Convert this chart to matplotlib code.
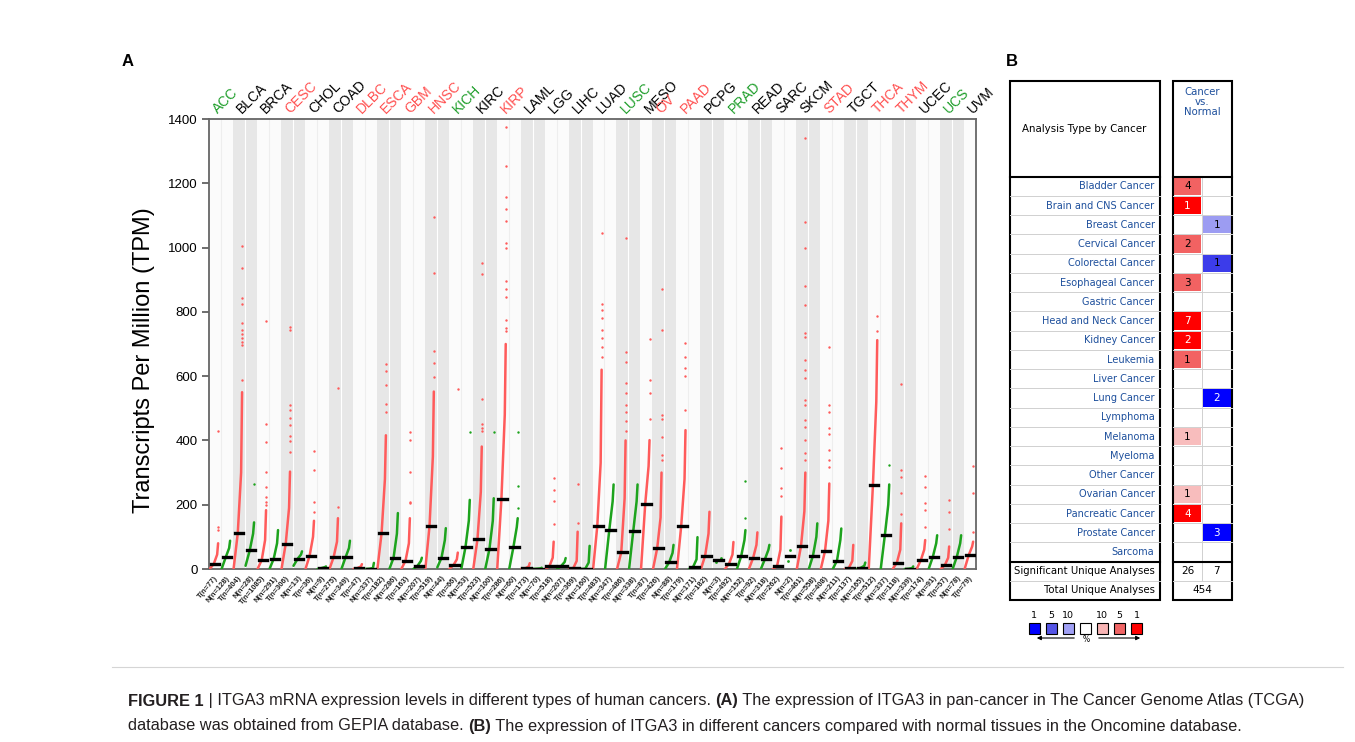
import matplotlib
matplotlib.use('Agg')
import matplotlib.pyplot as plt
from matplotlib.patches import Rectangle

plt.rcParams['font.family'] = ['Liberation Sans', 'DejaVu Sans']

# ---- panel A: GEPIA dot plot (TPM) ----
cancers = ['ACC', 'BLCA', 'BRCA', 'CESC', 'CHOL', 'COAD', 'DLBC', 'ESCA', 'GBM', 'HNSC',
           'KICH', 'KIRC', 'KIRP', 'LAML', 'LGG', 'LIHC', 'LUAD', 'LUSC', 'MESO', 'OV',
           'PAAD', 'PCPG', 'PRAD', 'READ', 'SARC', 'SKCM', 'STAD', 'TGCT', 'THCA', 'THYM',
           'UCEC', 'UCS', 'UVM']
name_color = ['g', 'k', 'k', 'r', 'k', 'k', 'r', 'r', 'r', 'r', 'g', 'k', 'r', 'k', 'k', 'k',
              'k', 'g', 'k', 'r', 'r', 'k', 'g', 'k', 'k', 'k', 'r', 'k', 'r', 'r', 'k', 'g', 'k']

t_n = [77, 404, 1085, 306, 36, 275, 47, 182, 163, 519, 66, 523, 286, 173, 518, 369, 483,
       486, 87, 426, 179, 182, 492, 92, 262, 461, 408, 137, 512, 118, 174, 57, 79]
n_n = [128, 28, 291, 13, 9, 349, 337, 286, 207, 44, 53, 100, 60, 70, 207, 160, 347,
       338, None, 88, 171, 3, 152, 318, 2, 558, 211, 165, 337, 339, 91, 78, None]

# tumour: median, upper part of the dense curve, end of the dense curve, single points
t_med = [16, 111, 28, 78, 42, 37, 3, 111, 26, 133, 12, 92, 218, 2, 8, 3, 134,
         52, 203, 65, 133, 42, 17, 34, 9, 72, 56, 4, 262, 20, 28, 12, 44]
t_hi = [45, 300, 90, 190, 100, 85, 8, 280, 80, 350, 30, 240, 480, 8, 35, 25, 330,
        220, 320, 160, 280, 110, 45, 75, 60, 180, 150, 25, 520, 60, 60, 35, 70]
t_top = [80, 550, 183, 303, 150, 158, 15, 416, 158, 552, 51, 381, 700, 18, 85, 116, 620,
         400, 401, 300, 432, 178, 84, 114, 163, 300, 266, 75, 712, 142, 90, 70, 85]
t_out = [
    [121, 131, 430],
    [588, 696, 705, 718, 730, 745, 765, 824, 844, 937, 1005],
    [200, 210, 225, 256, 303, 396, 452, 772],
    [364, 399, 413, 447, 471, 494, 510, 744, 754],
    [178, 209, 308, 368],
    [192, 563],
    [],
    [489, 514, 572, 615, 637],
    [204, 209, 301, 401, 427],
    [597, 640, 679, 920, 1096],
    [560],
    [430, 440, 450, 528, 919, 951],
    [741, 750, 775, 847, 872, 896, 998, 1015, 1084, 1120, 1156, 1255, 1376],
    [],
    [139, 212, 246, 282],
    [142, 266],
    [660, 690, 720, 745, 780, 805, 825, 1045],
    [430, 460, 490, 510, 547, 578, 645, 676, 1030],
    [468, 549, 588, 715],
    [340, 355, 412, 468, 478, 743, 870],
    [494, 600, 626, 660, 702],
    [],
    [],
    [],
    [228, 252, 315, 378],
    [340, 360, 400, 443, 464, 510, 526, 595, 620, 650, 722, 733, 820, 880, 1000, 1080, 1340],
    [317, 340, 371, 420, 440, 490, 510, 692],
    [],
    [740, 788],
    [171, 236, 287, 308, 576],
    [131, 183, 204, 256, 290],
    [123, 178, 215],
    [116, 235, 320],
]

# normal tissue
n_lo = [0, 10, 0, 10, 0, 0, 0, 0, 0, 5, 0, 0, 0, 0, 0, 0, 0,
        0, None, 0, 0, 21, 0, 0, 25, 0, 0, 0, 0, 0, 0, 0, None]
n_med = [37, 58, 32, 32, 3, 37, 1, 35, 10, 35, 68, 62, 68, 1, 10, 1, 121,
         118, None, 21, 7, 28, 39, 32, 42, 42, 26, 4, 107, 1, 38, 38, None]
n_hi = [65, 110, 80, 45, 6, 65, 3, 110, 25, 90, 150, 150, 130, 2, 22, 20, 210,
        210, None, 50, 30, 32, 90, 60, 50, 100, 90, 10, 200, 3, 80, 80, None]
n_top = [88, 145, 121, 55, 8, 88, 19, 174, 35, 127, 215, 220, 158, 4, 34, 72, 263,
         263, None, 75, 99, 35, 121, 75, 59, 142, 126, 20, 263, 8, 105, 105, None]
n_out = [[], [263], [], [], [], [], [], [], [], [], [427], [427], [191, 258, 427], [], [], [], [],
         [], [], [], [], [], [158, 275], [], [], [], [], [], [324], [], [], [], []]

y_ticks = [0, 200, 400, 600, 800, 1000, 1200, 1400]

# ---- panel B: Oncomine summary ----
b_cancers = ['Bladder Cancer', 'Brain and CNS Cancer', 'Breast Cancer', 'Cervical Cancer',
             'Colorectal Cancer', 'Esophageal Cancer', 'Gastric Cancer', 'Head and Neck Cancer',
             'Kidney Cancer', 'Leukemia', 'Liver Cancer', 'Lung Cancer', 'Lymphoma', 'Melanoma',
             'Myeloma', 'Other Cancer', 'Ovarian Cancer', 'Pancreatic Cancer', 'Prostate Cancer',
             'Sarcoma']
b_up = [4, 1, None, 2, None, 3, None, 7, 2, 1, None, None, None, 1, None, None, 1, 4, None, None]
b_up_rank = [5, 1, None, 5, None, 5, None, 1, 1, 5, None, None, None, 10, None, None, 10, 1, None, None]
b_down = [None, None, 1, None, 1, None, None, None, None, None, None, 2, None, None, None, None,
          None, None, 3, None]
b_down_rank = [None, None, 10, None, 5, None, None, None, None, None, None, 1, None, None, None,
               None, None, None, 1, None]
b_sig = [26, 7]
b_total = 454
legend_ranks = [1, 5, 10]

RED = '#FF5B5B'
GREEN = '#1DA31D'
TXT = {'g': '#1E9E2A', 'r': '#FF5050', 'k': 'black'}
RED_RANK = {1: '#FF0000', 5: '#F26262', 10: '#F8BDBD'}
BLUE_RANK = {1: '#0000FF', 5: '#3C3CEA', 10: '#9C9CF2'}
ONC_BLUE = '#1D4F9C'

fig = plt.figure(figsize=(13.55, 7.42), dpi=100)
W, H = 1355, 742

ax = fig.add_axes([209 / W, 1 - 569 / H, (976 - 209) / W, (569 - 119) / H])


def draw_group(xc, lo, med, hi, top, outs, n, color):
    if n <= 3:
        vals = [lo, med, top] if n == 3 else [lo, top]
        xs = [xc - 0.2 + 0.2 * k for k in range(len(vals))]
        ax.scatter(xs, vals, s=4, color=color, lw=0, zorder=3)
    else:
        ax.plot([xc - 0.45, xc - 0.1, xc + 0.18, xc + 0.26], [lo, med, hi, top],
                color=color, lw=1.8, solid_capstyle='round', zorder=3)
    if outs:
        ax.scatter([xc + 0.26] * len(outs), outs, s=3, color=color, lw=0, zorder=3)
    ax.plot([xc - 0.35, xc + 0.35], [med, med], color='black', lw=2.4, zorder=4)


xtrans = ax.get_xaxis_transform()
pos = 0
for i, c in enumerate(cancers):
    start = pos
    cols = [('T', t_n[i])]
    draw_group(pos + 0.5, 0, t_med[i], t_hi[i], t_top[i], t_out[i], t_n[i], RED)
    pos += 1
    if n_n[i] is not None:
        cols.append(('N', n_n[i]))
        draw_group(pos + 0.5, n_lo[i], n_med[i], n_hi[i], n_top[i], n_out[i], n_n[i], GREEN)
        pos += 1
    band = '#E7E7E7' if i % 2 else '#FBFBFB'
    ax.axvspan(start, pos, color=band, lw=0, zorder=0)
    if pos - start == 2:
        ax.axvline(start + 1, color='white' if i % 2 else '#EEEEEE', lw=0.8, zorder=0.5)
    for k, (g, n) in enumerate(cols):
        ax.text(start + k + 0.4, -0.012, f'{g}(n={n})', transform=xtrans, rotation=50,
                rotation_mode='anchor', ha='right', va='top', fontsize=5.4,
                fontweight='bold', color='#222222')
    ax.text(start + 0.95, 1.006, c, transform=xtrans, rotation=45, rotation_mode='anchor',
            ha='left', va='bottom', fontsize=10, color=TXT[name_color[i]])

ax.set_xlim(0, pos)
ax.set_ylim(0, 1400)
ax.set_xticks([])
ax.set_yticks(y_ticks)
ax.tick_params(axis='y', length=5, width=1.2, color='#555555', labelsize=9.5, pad=3)
for s in ax.spines.values():
    s.set_color('#666666')
    s.set_linewidth(1.3)
ax.set_ylabel('Transcripts Per Million (TPM)', fontsize=17)
ax.yaxis.set_label_coords(-0.071, 0.465)

# ---- overlay in pixel coordinates for panel B, letters and caption ----
ov = fig.add_axes([0, 0, 1, 1])
ov.set_xlim(0, W)
ov.set_ylim(H, 0)
ov.axis('off')

ov.text(128, 62, 'A', fontsize=12, fontweight='bold', va='center', ha='center')
ov.text(1012, 62, 'B', fontsize=12, fontweight='bold', va='center', ha='center')

tf = dict(family=['DejaVu Sans'])
L0, L1 = 1009.5, 1159.5
R0, RM, R1 = 1173, 1202, 1231.5
top_y, head_y, row_h = 81, 176.7, 19.25
sig_y = head_y + row_h * len(b_cancers)
tot_y = sig_y + 19
bot_y = tot_y + 19.3

# coloured cells
for i in range(len(b_cancers)):
    y = head_y + i * row_h
    if b_up[i] is not None:
        ov.add_patch(Rectangle((R0 + 1, y + 1), RM - R0 - 2, row_h - 2,
                               color=RED_RANK[b_up_rank[i]], lw=0))
        ov.text((R0 + RM) / 2, y + row_h / 2, str(b_up[i]), ha='center', va='center',
                fontsize=7.5, color='white' if b_up_rank[i] == 1 else 'black', **tf)
    if b_down[i] is not None:
        ov.add_patch(Rectangle((RM + 1, y + 1), R1 - RM - 2, row_h - 2,
                               color=BLUE_RANK[b_down_rank[i]], lw=0))
        ov.text((RM + R1) / 2, y + row_h / 2, str(b_down[i]), ha='center', va='center',
                fontsize=7.5, color='white' if b_down_rank[i] == 1 else 'black', **tf)
    ov.text(L1 - 5, y + row_h / 2, b_cancers[i], ha='right', va='center', fontsize=7,
            color=ONC_BLUE, **tf)
    if i > 0:
        ov.plot([L0, L1], [y, y], color='#D0D0D0', lw=0.7)
        ov.plot([R0, R1], [y, y], color='#D0D0D0', lw=0.7)

ov.plot([RM, RM], [head_y, tot_y], color='#D0D0D0', lw=0.7)
ov.plot([L0, L1], [tot_y, tot_y], color='#D0D0D0', lw=0.7)
ov.plot([R0, R1], [tot_y, tot_y], color='#D0D0D0', lw=0.7)
for x0, x1 in [(L0, L1), (R0, R1)]:
    ov.add_patch(Rectangle((x0, top_y), x1 - x0, bot_y - top_y, fill=False,
                           ec='black', lw=1.5))
    ov.plot([x0, x1], [head_y, head_y], color='black', lw=1.5)
    ov.plot([x0, x1], [sig_y, sig_y], color='black', lw=1.5)

ov.text((L0 + L1) / 2, (top_y + head_y) / 2, 'Analysis Type by Cancer', ha='center',
        va='center', fontsize=7.4, **tf)
ov.text((R0 + R1) / 2, 102, 'Cancer\nvs.\nNormal', ha='center', va='center', fontsize=7.3,
        color=ONC_BLUE, linespacing=0.95, **tf)
ov.text(L1 - 5, (sig_y + tot_y) / 2, 'Significant Unique Analyses', ha='right',
        va='center', fontsize=7.25, **tf)
ov.text(L1 - 5, (tot_y + bot_y) / 2, 'Total Unique Analyses', ha='right', va='center',
        fontsize=7.25, **tf)
ov.text((R0 + RM) / 2, (sig_y + tot_y) / 2, str(b_sig[0]), ha='center', va='center',
        fontsize=7.5, **tf)
ov.text((RM + R1) / 2, (sig_y + tot_y) / 2, str(b_sig[1]), ha='center', va='center',
        fontsize=7.5, **tf)
ov.text((R0 + R1) / 2, (tot_y + bot_y) / 2, str(b_total), ha='center', va='center',
        fontsize=7.5, **tf)

# colour key
key_cols = [BLUE_RANK[1], '#5555E6', '#A0A0F5', 'white', '#F8B4B4', '#F06464', RED_RANK[1]]
key_txt = [str(r) for r in legend_ranks] + [''] + [str(r) for r in legend_ranks[::-1]]
for k, (kc, kt) in enumerate(zip(key_cols, key_txt)):
    x = 1028.5 + k * 17.1
    ov.add_patch(Rectangle((x, 622.5), 11, 11, facecolor=kc, edgecolor='black', lw=0.8))
    if kt:
        ov.text(x + 5.5, 615, kt, ha='center', va='center', fontsize=6.8, **tf)
ov.annotate('', xy=(1034, 638), xytext=(1077, 638),
            arrowprops=dict(arrowstyle='-|>', color='black', lw=0.8, mutation_scale=6))
ov.annotate('', xy=(1143, 638), xytext=(1096, 638),
            arrowprops=dict(arrowstyle='-|>', color='black', lw=0.8, mutation_scale=6))
ov.text(1086.5, 640, '%', ha='center', va='center', fontsize=5.5, **tf)

# ---- caption ----
ov.plot([112, 1343], [667, 667], color='#D5D5D5', lw=0.8)
renderer = fig.canvas.get_renderer()


def rich_line(x, y, parts):
    for s, bold in parts:
        t = ov.text(x, y, s, fontsize=11.8, fontweight='bold' if bold else 'normal',
                    ha='left', va='center', color='#231F20')
        x += t.get_window_extent(renderer=renderer).width


rich_line(128, 701, [('FIGURE 1', True),
                     (' | ITGA3 mRNA expression levels in different types of human cancers. ', False),
                     ('(A)', True),
                     (' The expression of ITGA3 in pan-cancer in The Cancer Genome Atlas (TCGA)', False)])
rich_line(128, 726, [('database was obtained from GEPIA database. ', False),
                     ('(B)', True),
                     (' The expression of ITGA3 in different cancers compared with normal tissues '
                      'in the Oncomine database.', False)])

fig.savefig('out.png', dpi=100)
